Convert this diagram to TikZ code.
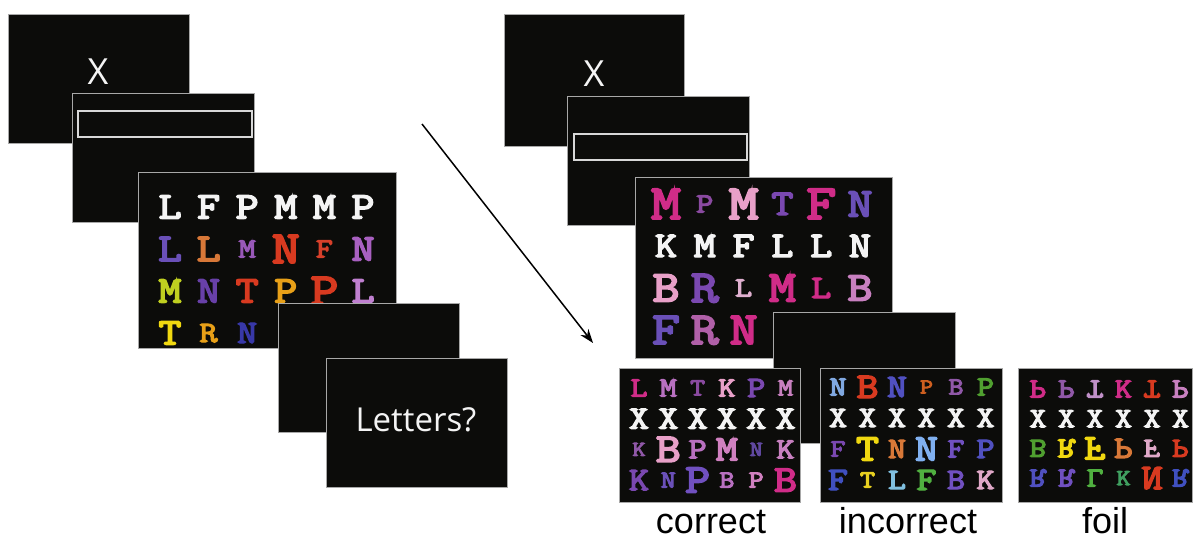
\documentclass[tikz,border=0pt]{standalone}
\usepackage{fontspec}
\usepackage{graphicx}
\usetikzlibrary{arrows.meta}
\newfontfamily\slab{Latin Modern Mono}[FakeBold=4]
\newfontfamily\osans{Open Sans}
\newfontfamily\lsans{Liberation Sans}
\definecolor{panelblack}{HTML}{0C0C0A}
\definecolor{panelgray}{HTML}{A8A8A8}
\definecolor{boxgray}{HTML}{D8D8D8}
\definecolor{wht}{HTML}{F4F4F4}
\definecolor{cA}{HTML}{6A50B8}
\definecolor{cOr}{HTML}{D87838}
\definecolor{cMp}{HTML}{9858B8}
\definecolor{cRd}{HTML}{D83A20}
\definecolor{cRd2}{HTML}{D8402A}
\definecolor{cVi}{HTML}{A860C0}
\definecolor{cYg}{HTML}{C0D020}
\definecolor{cDp}{HTML}{6840A8}
\definecolor{cGo}{HTML}{E8A018}
\definecolor{cLi}{HTML}{C080D0}
\definecolor{cYe}{HTML}{F0D810}
\definecolor{cBl}{HTML}{3838A8}
\definecolor{cMg}{HTML}{D02C88}
\definecolor{cPp}{HTML}{8A4AA0}
\definecolor{cPk}{HTML}{E8A0C8}
\definecolor{cDp2}{HTML}{7A48B0}
\definecolor{cVi2}{HTML}{6A50B8}
\definecolor{cPk2}{HTML}{E0B0D0}
\definecolor{cPl}{HTML}{C880C0}
\definecolor{cMv}{HTML}{B060A8}
\definecolor{cMv2}{HTML}{B870C0}
\definecolor{cPp2}{HTML}{9058A8}
\definecolor{cPk3}{HTML}{D080C0}
\definecolor{cDv}{HTML}{6048A0}
\definecolor{cVi3}{HTML}{7050C0}
\definecolor{cLb}{HTML}{80A8E0}
\definecolor{cLb2}{HTML}{80B0F0}
\definecolor{cLb3}{HTML}{80C0E0}
\definecolor{cBv}{HTML}{5050C0}
\definecolor{cOr2}{HTML}{D06020}
\definecolor{cGr}{HTML}{50A030}
\definecolor{cGr2}{HTML}{50B040}
\definecolor{cGk}{HTML}{40A060}
\definecolor{cBu}{HTML}{4050C0}
\definecolor{cYe2}{HTML}{E8D020}
\definecolor{cPk4}{HTML}{E0A8C8}
\definecolor{cLi2}{HTML}{C090C8}
\newcommand\fl[1]{\raisebox{\depth}{\scalebox{1}[-1]{#1}}}
\newcommand\mr[1]{\reflectbox{#1}}
\newcommand\lgrid[6]{%
  \foreach \l/\c/\h [count=\i from 0] in {#6} {
    \pgfmathsetmacro\px{#2 + mod(\i,6)*#4}
    \pgfmathsetmacro\py{#3 + floor(\i/6)*#5 + \h/2}
    \pgfmathsetmacro\fs{\h*1.64}
    \node[ltr, text=\c, font=\slab\fontsize{\fs pt}{\fs pt}\selectfont] (#1-\i) at (\px,\py) {\scalebox{1.18}[1]{\l}};
  }%
}
\tikzset{
  panel/.style={draw=panelgray, line width=1.2pt, fill=panelblack, rectangle, inner sep=0pt, anchor=north west},
  inbox/.style={draw=boxgray, line width=2pt, rectangle, inner sep=0pt, anchor=north west},
  ltr/.style={inner sep=0pt, anchor=base},
  fixx/.style={font=\osans\fontsize{36pt}{36pt}\selectfont, text=wht, inner sep=0pt, anchor=base},
  lab/.style={font=\lsans\fontsize{36pt}{36pt}\selectfont, text=black, inner sep=0pt, anchor=base},
}
\begin{document}
\begin{tikzpicture}[x=1pt,y=-1pt]
\useasboundingbox (0,0) rectangle (1193,538);
\fill[white] (0,0) rectangle (1193,538);
% left sequence
\node[panel, minimum width=181pt, minimum height=129pt] (L1) at (8,14) {};
\node[fixx] (L1x) at (98,84) {X};
\node[panel, minimum width=182pt, minimum height=129pt] (L2) at (72,93) {};
\node[inbox, minimum width=174pt, minimum height=26pt] (L2b) at (77,110) {};
\node[panel, minimum width=258pt, minimum height=176pt] (L3) at (138,172) {};
\lgrid{LG}{170}{207}{38.6}{42}{L/wht/23, F/wht/23, P/wht/23, M/wht/23, M/wht/23, P/wht/23,
  L/cA/24, L/cOr/24, M/cMp/17, N/cRd/28, F/cRd2/17, N/cVi/23,
  M/cYg/23, N/cDp/23, T/cRd/23, P/cGo/23, P/cRd/28, L/cLi/23,
  T/cYe/23, R/cGo/18, N/cBl/20}
\node[panel, minimum width=181pt, minimum height=129pt] (L4) at (278,303) {};
\node[panel, minimum width=181pt, minimum height=129pt] (L5) at (326,358) {};
\node[font=\osans\fontsize{33pt}{33pt}\selectfont, text=wht, inner sep=0pt, anchor=base] (L5t) at (416,431) {Letters?};
% arrow
\coordinate (a0) at (422,124);
\coordinate (a1) at (593,343);
\draw[line width=1.5pt, -{Stealth[length=14pt,width=10pt]}] (a0) -- (a1);
% right sequence
\node[panel, minimum width=180pt, minimum height=132pt] (R1) at (504,14) {};
\node[fixx] (R1x) at (594,86) {X};
\node[panel, minimum width=182pt, minimum height=129pt] (R2) at (567,96) {};
\node[inbox, minimum width=173pt, minimum height=26pt] (R2b) at (573,133) {};
\node[panel, minimum width=257pt, minimum height=181pt] (R3) at (635,177) {};
\lgrid{RG}{666}{204}{38.8}{42}{M/cMg/30, P/cPp/17, M/cPk/30, T/cDp2/22, F/cMg/30, N/cVi2/25,
  K/wht/22, M/wht/22, F/wht/22, L/wht/22, L/wht/22, N/wht/22,
  B/cPk/27, R/cDp2/28, L/cPk2/17, M/cMg/27, L/cMg/20, B/cPl/25,
  F/cVi2/28, R/cMv/28, N/cMg/28}
\node[panel, minimum width=182pt, minimum height=131pt] (R4) at (773,312) {};
% response panels
\node[panel, minimum width=181pt, minimum height=134pt] (C) at (619,368) {};
\lgrid{CG}{639}{388}{29.3}{30.7}{L/cMg/17, M/cMv2/17, T/cPp/15, K/cPk/17, P/cDp2/18, M/cPl/15,
  X/wht/20, X/wht/20, X/wht/20, X/wht/20, X/wht/20, X/wht/20,
  K/cPp2/13, B/cPk/25, P/cMv2/18, M/cPk3/22, N/cDv/13, K/cPl/18,
  K/cDp2/20, N/cVi2/15, P/cVi3/25, B/cMv2/15, P/cPk3/15, B/cMg/23}
\node[panel, minimum width=182pt, minimum height=134pt] (I) at (820,368) {};
\lgrid{IG}{838}{387}{29.5}{31}{N/cLb/17, B/cRd/22, N/cBv/20, P/cOr2/13, B/cPp2/15, P/cGr/17,
  X/wht/18, X/wht/18, X/wht/18, X/wht/18, X/wht/18, X/wht/18,
  F/cDp2/15, T/cYe/23, N/cOr/18, N/cLb2/23, F/cVi3/17, P/cBv/18,
  F/cBu/20, T/cYe2/15, L/cLb3/18, F/cGr2/20, B/cVi3/18, K/cPk4/18}
\node[panel, minimum width=174pt, minimum height=134pt] (F) at (1018,368) {};
\lgrid{FG}{1038}{389}{28.5}{29.7}{\fl{P}/cMg/17, \fl{P}/cPp2/17, \fl{T}/cLi2/17, K/cMg/17, \fl{T}/cRd/17, \fl{P}/cPl/17,
  X/wht/17, X/wht/17, X/wht/17, X/wht/17, X/wht/17, X/wht/17,
  \fl{B}/cGr/17, \fl{R}/cYe/18, \fl{F}/cYe/22, \fl{P}/cOr/19, \fl{F}/cPk4/17, \fl{P}/cRd/17,
  \fl{R}/cBv/17, \fl{R}/cVi3/17, \fl{L}/cGr2/17, K/cGk/14, \mr{N}/cRd/22, \fl{R}/cBu/17}
% labels
\node[lab] (Cl) at (711,533) {correct};
\node[lab] (Il) at (908,533) {incorrect};
\node[lab] (Fl) at (1105,533) {foil};
\end{tikzpicture}
\end{document}
